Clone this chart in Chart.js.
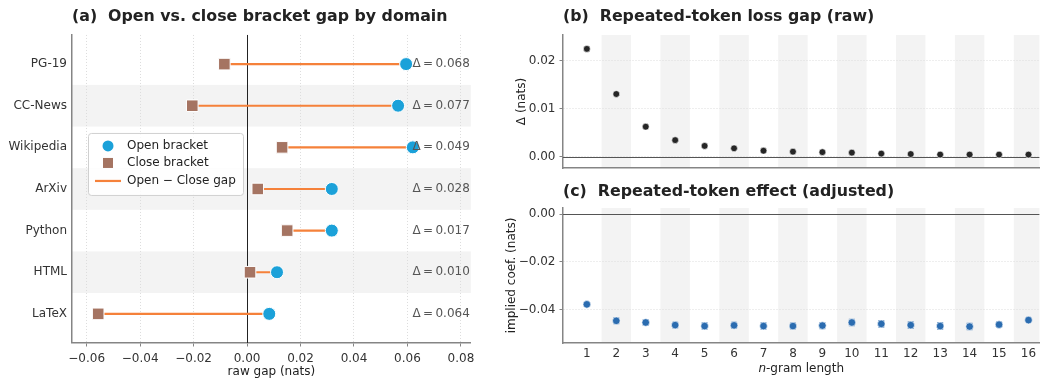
<!DOCTYPE html>
<html>
<head>
<meta charset="utf-8">
<script src="https://cdn.jsdelivr.net/npm/chart.js@4.4.1/dist/chart.umd.min.js"></script>
<style>
  body { margin: 0; background: #fff; width: 1044px; height: 379px; overflow: hidden; position: relative; }
  canvas { position: absolute; }
  #chartA { left: 0; top: 0; width: 480px; height: 379px; }
  #chartB { left: 480px; top: 0; width: 564px; height: 180px; }
  #chartC { left: 480px; top: 180px; width: 564px; height: 199px; }
</style>
</head>
<body>
<canvas id="chartA" width="480" height="379"></canvas>
<canvas id="chartB" width="564" height="180"></canvas>
<canvas id="chartC" width="564" height="199"></canvas>
<script>
// panel (a) data
const domains = ['PG-19', 'CC-News', 'Wikipedia', 'ArXiv', 'Python', 'HTML', 'LaTeX'];
const openGap = [0.0595, 0.0565, 0.0620, 0.0317, 0.0317, 0.0112, 0.0083];
const closeGap = [-0.0085, -0.0205, 0.0131, 0.0040, 0.0150, 0.0011, -0.0557];
const xTicksA = [-0.06, -0.04, -0.02, 0, 0.02, 0.04, 0.06, 0.08];

// panels (b) and (c) data
const ngram = [1, 2, 3, 4, 5, 6, 7, 8, 9, 10, 11, 12, 13, 14, 15, 16];
const rawGap = [0.0225, 0.0131, 0.0063, 0.0035, 0.0023, 0.0018, 0.0013, 0.0011, 0.0010, 0.0009, 0.0007, 0.0006, 0.0005, 0.0005, 0.0005, 0.0005];
const rawErr = [0.0004, 0.0002, 0.0001, 0.0001, 0.0001, 0.0001, 0.0001, 0.0001, 0.0001, 0.0001, 0.0001, 0.0001, 0.0001, 0.0001, 0.0001, 0.0001];
const adjCoef = [-0.0378, -0.0447, -0.0454, -0.0465, -0.0469, -0.0466, -0.0469, -0.0469, -0.0467, -0.0454, -0.0460, -0.0465, -0.0469, -0.0471, -0.0463, -0.0444];
const adjErr = [0.0006, 0.0012, 0.0012, 0.0012, 0.0013, 0.0013, 0.0013, 0.0012, 0.0013, 0.0013, 0.0014, 0.0014, 0.0014, 0.0013, 0.0012, 0.0008];
const yTicksB = [0, 0.01, 0.02];
const yTicksC = [-0.04, -0.02, 0];

const FONT = "'DejaVu Sans', sans-serif";
Chart.defaults.font.family = FONT;
Chart.defaults.font.size = 12;
Chart.defaults.color = '#333';
Chart.defaults.animation = false;
Chart.defaults.plugins.legend.display = false;
Chart.defaults.plugins.tooltip.enabled = false;

const BAND = '#f3f3f3';
const SPINE = '#858585';

function fmt(v) {
  return (v < -1e-9 ? '\u2212' : '') + Math.abs(v).toFixed(2);
}

function setTicks(values) {
  return scale => { scale.ticks = values.map(v => ({ value: v })); };
}

// shaded bands behind alternating rows / columns
const bandPlugin = {
  id: 'bands',
  beforeDraw(chart, args, opts) {
    if (!opts.at) return;
    const { ctx, chartArea: a, scales } = chart;
    ctx.save();
    ctx.fillStyle = BAND;
    opts.at.forEach(v => {
      if (opts.axis === 'x') {
        let x0 = Math.max(a.left, scales.x.getPixelForValue(v - 0.5));
        let x1 = Math.min(a.right, scales.x.getPixelForValue(v + 0.5));
        ctx.fillRect(x0, a.top, x1 - x0, a.bottom - a.top);
      } else {
        let y0 = scales.y.getPixelForValue(v - 0.5);
        let y1 = scales.y.getPixelForValue(v + 0.5);
        ctx.fillRect(a.left, Math.min(y0, y1), a.right - a.left, Math.abs(y1 - y0));
      }
    });
    ctx.restore();
  }
};

// reference line at zero
const zeroPlugin = {
  id: 'zero',
  beforeDatasetsDraw(chart, args, opts) {
    if (!opts.axis) return;
    const { ctx, chartArea: a, scales } = chart;
    ctx.save();
    ctx.strokeStyle = opts.color;
    ctx.lineWidth = opts.width;
    ctx.beginPath();
    if (opts.axis === 'x') {
      const x = Math.round(scales.x.getPixelForValue(0)) + 0.5;
      ctx.moveTo(x, a.top); ctx.lineTo(x, a.bottom);
    } else {
      const y = Math.round(scales.y.getPixelForValue(0)) + 0.5;
      ctx.moveTo(a.left, y); ctx.lineTo(a.right, y);
    }
    ctx.stroke();
    ctx.restore();
  }
};

// vertical error bars from dataset.errors
const errorPlugin = {
  id: 'errors',
  beforeDatasetsDraw(chart) {
    const { ctx, scales } = chart;
    chart.data.datasets.forEach(ds => {
      if (!ds.errors) return;
      ctx.save();
      ctx.strokeStyle = ds.errorColor;
      ctx.lineWidth = 1.2;
      ds.data.forEach((p, i) => {
        const x = scales.x.getPixelForValue(p.x);
        const y0 = scales.y.getPixelForValue(p.y - ds.errors[i]);
        const y1 = scales.y.getPixelForValue(p.y + ds.errors[i]);
        ctx.beginPath();
        ctx.moveTo(x, y0); ctx.lineTo(x, y1);
        ctx.moveTo(x - 3, y0); ctx.lineTo(x + 3, y0);
        ctx.moveTo(x - 3, y1); ctx.lineTo(x + 3, y1);
        ctx.stroke();
      });
      ctx.restore();
    });
  }
};

// delta labels and legend for panel (a)
const annotatePlugin = {
  id: 'annotateA',
  afterDraw(chart) {
    const { ctx, chartArea: a, scales } = chart;
    ctx.save();
    ctx.font = '12px ' + FONT;
    ctx.fillStyle = '#555';
    ctx.textAlign = 'right';
    ctx.textBaseline = 'middle';
    domains.forEach((d, i) => {
      const delta = (openGap[i] - closeGap[i]).toFixed(3);
      ctx.fillText('\u0394\u2009=\u2009' + delta, a.right - 1, scales.y.getPixelForValue(i));
    });

    // legend box
    const lx = a.left + 16, ly = a.top + 98, lw = 155, lh = 62;
    ctx.fillStyle = 'rgba(255,255,255,0.85)';
    ctx.strokeStyle = '#d0d0d0';
    ctx.lineWidth = 1;
    ctx.beginPath();
    ctx.roundRect(lx + 0.5, ly + 0.5, lw, lh, 3);
    ctx.fill(); ctx.stroke();

    const rows = [ly + 13, ly + 30, ly + 48];
    ctx.fillStyle = '#1ba1d9';
    ctx.beginPath(); ctx.arc(lx + 20, rows[0], 5.5, 0, Math.PI * 2); ctx.fill();
    ctx.fillStyle = '#a57462';
    ctx.fillRect(lx + 15, rows[1] - 5, 10, 10);
    ctx.strokeStyle = '#f5813a';
    ctx.lineWidth = 2.2;
    ctx.beginPath(); ctx.moveTo(lx + 7, rows[2]); ctx.lineTo(lx + 33, rows[2]); ctx.stroke();

    ctx.fillStyle = '#222';
    ctx.textAlign = 'left';
    ctx.fillText('Open bracket', lx + 39, rows[0]);
    ctx.fillText('Close bracket', lx + 39, rows[1]);
    ctx.fillText('Open \u2212 Close gap', lx + 39, rows[2]);
    ctx.restore();
  }
};

// x-axis title with italic n for panel (c)
const ngramTitlePlugin = {
  id: 'ngramTitle',
  afterDraw(chart) {
    const { ctx, chartArea: a } = chart;
    const cx = (a.left + a.right) / 2;
    const y = chart.height - 10;
    ctx.save();
    ctx.fillStyle = '#222';
    ctx.textBaseline = 'middle';
    ctx.font = 'italic 12px ' + FONT;
    const w1 = ctx.measureText('n').width;
    ctx.font = '12px ' + FONT;
    const w2 = ctx.measureText('-gram length').width;
    const x0 = cx - (w1 + w2) / 2;
    ctx.textAlign = 'left';
    ctx.font = 'italic 12px ' + FONT;
    ctx.fillText('n', x0, y);
    ctx.font = '12px ' + FONT;
    ctx.fillText('-gram length', x0 + w1, y);
    ctx.restore();
  }
};

Chart.register(bandPlugin, zeroPlugin, errorPlugin);

function titleOpts(text, top, bottom) {
  return {
    display: true, text: text, align: 'start', fullSize: false,
    color: '#222', font: { size: 15.8, weight: 'bold' },
    padding: { top: top, bottom: bottom }
  };
}

// ---------- panel (a) ----------
const gapLine = [];
domains.forEach((d, i) => {
  gapLine.push({ x: closeGap[i], y: i }, { x: openGap[i], y: i }, { x: null, y: null });
});

new Chart(document.getElementById('chartA'), {
  type: 'scatter',
  data: {
    datasets: [
      {
        label: 'Open bracket',
        data: domains.map((d, i) => ({ x: openGap[i], y: i })),
        pointStyle: 'circle', pointRadius: 6.5,
        backgroundColor: '#1ba1d9', borderColor: '#fff', borderWidth: 1
      },
      {
        label: 'Close bracket',
        data: domains.map((d, i) => ({ x: closeGap[i], y: i })),
        pointStyle: 'rect', pointRadius: 8.2,
        backgroundColor: '#a57462', borderColor: '#fff', borderWidth: 1
      },
      {
        label: 'Open \u2212 Close gap',
        data: gapLine, showLine: true, spanGaps: false,
        borderColor: '#f5813a', borderWidth: 2.2, pointRadius: 0
      }
    ]
  },
  options: {
    responsive: false,
    layout: { padding: { left: 0, right: 7, top: 0, bottom: 0 } },
    plugins: {
      title: titleOpts('(a)  Open vs. close bracket gap by domain', 7, 9),
      bands: { axis: 'y', at: [1, 3, 5] },
      zero: { axis: 'x', color: '#222', width: 1 }
    },
    scales: {
      x: {
        type: 'linear', min: -0.0655, max: 0.0837,
        afterBuildTicks: setTicks(xTicksA),
        afterFit: s => { s.height = 36; },
        ticks: { callback: v => fmt(v), padding: 5, color: '#333', maxRotation: 0 },
        grid: { color: '#dcdcdc', tickColor: SPINE, tickLength: 3.5 },
        border: { display: true, color: SPINE, width: 1.5, dash: [1, 2] },
        title: { display: true, text: 'raw gap (nats)', color: '#222', padding: { top: 0, bottom: 0 } }
      },
      y: {
        type: 'linear', min: -0.7, max: 6.7, reverse: true,
        afterBuildTicks: setTicks(domains.map((d, i) => i)),
        afterFit: s => { s.width = 72; },
        ticks: { callback: v => domains[v], padding: 5, color: '#333' },
        grid: { display: false, drawTicks: false },
        border: { display: true, color: SPINE, width: 1.5 }
      }
    }
  },
  plugins: [annotatePlugin]
});

// ---------- panel (b) ----------
const evenBands = ngram.filter(n => n % 2 === 0);

new Chart(document.getElementById('chartB'), {
  type: 'scatter',
  data: {
    datasets: [{
      data: ngram.map((n, i) => ({ x: n, y: rawGap[i] })),
      errors: rawErr, errorColor: '#555',
      pointRadius: 3.4, backgroundColor: '#262626', borderColor: '#fff', borderWidth: 0.6
    }]
  },
  options: {
    responsive: false,
    layout: { padding: 0 },
    plugins: {
      title: titleOpts('(b)  Repeated-token loss gap (raw)', 7, 9),
      bands: { axis: 'x', at: evenBands },
      zero: { axis: 'y', color: '#555', width: 1.2 }
    },
    scales: {
      x: {
        type: 'linear', min: 0.19, max: 16.37,
        afterBuildTicks: setTicks(ngram),
        afterFit: s => { s.height = 12; },
        ticks: { display: false },
        grid: { display: false, drawTicks: false },
        border: { display: true, color: SPINE, width: 1.5 }
      },
      y: {
        type: 'linear', min: -0.0023, max: 0.0254,
        afterBuildTicks: setTicks(yTicksB),
        afterFit: s => { s.width = 83; },
        ticks: { callback: v => fmt(v), padding: 4, color: '#333' },
        grid: { color: '#dcdcdc', tickColor: SPINE, tickLength: 3.5 },
        border: { display: true, color: SPINE, width: 1.5, dash: [1, 2] },
        title: { display: true, text: '\u0394 (nats)', color: '#222', padding: { top: 35 } }
      }
    }
  }
});

// ---------- panel (c) ----------
new Chart(document.getElementById('chartC'), {
  type: 'scatter',
  data: {
    datasets: [{
      data: ngram.map((n, i) => ({ x: n, y: adjCoef[i] })),
      errors: adjErr, errorColor: 'rgba(43,108,176,0.75)',
      pointRadius: 3.8, backgroundColor: '#2b6cb0', borderColor: '#fff', borderWidth: 0.6
    }]
  },
  options: {
    responsive: false,
    layout: { padding: 0 },
    plugins: {
      title: titleOpts('(c)  Repeated-token effect (adjusted)', 2, 7),
      bands: { axis: 'x', at: evenBands },
      zero: { axis: 'y', color: '#555', width: 1.2 }
    },
    scales: {
      x: {
        type: 'linear', min: 0.19, max: 16.37,
        afterBuildTicks: setTicks(ngram),
        afterFit: s => { s.height = 36; },
        ticks: { callback: v => String(v), padding: 4, color: '#333', maxRotation: 0, autoSkip: false },
        grid: { display: false, drawTicks: false },
        border: { display: true, color: SPINE, width: 1.5 }
      },
      y: {
        type: 'linear', min: -0.054, max: 0.0026,
        afterBuildTicks: setTicks(yTicksC),
        afterFit: s => { s.width = 83; },
        ticks: { callback: v => fmt(v), padding: 4, color: '#333' },
        grid: { color: '#dcdcdc', tickColor: SPINE, tickLength: 3.5 },
        border: { display: true, color: SPINE, width: 1.5, dash: [1, 2] },
        title: { display: true, text: 'implied coef. (nats)', color: '#222', padding: { top: 25 } }
      }
    }
  },
  plugins: [ngramTitlePlugin]
});
</script>
</body>
</html>
